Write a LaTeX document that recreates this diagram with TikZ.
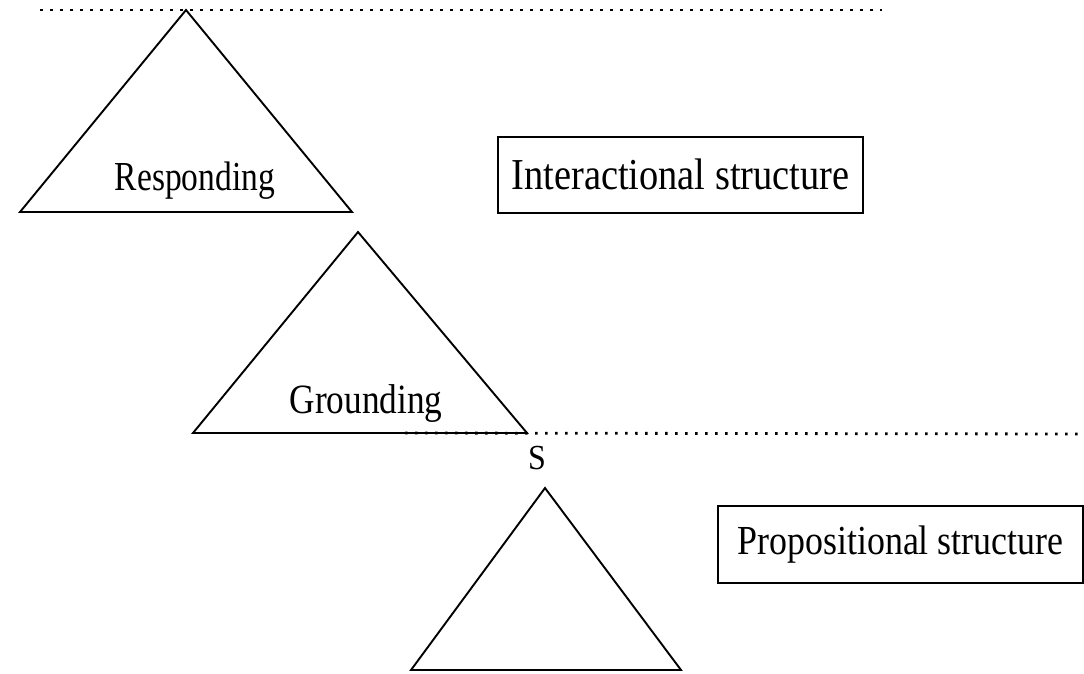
\documentclass[tikz,border=0pt]{standalone}
\usepackage{fontspec}
\setmainfont{Liberation Serif}
\begin{document}
\begin{tikzpicture}[x=1pt,y=-1pt,
  tri/.style={draw=black,line width=1.9pt,line join=miter},
  dotline/.style={draw=black,line width=2.8pt,dash pattern=on 2.6pt off 7.4pt},
  lbl/.style={inner sep=0pt,anchor=base},
  boxnode/.style={draw=black,line width=2pt,inner sep=0pt}
]
\useasboundingbox (0,0) rectangle (1084,673);
% dotted lines
\coordinate (t1) at (40,10);
\coordinate (t2) at (882,10);
\coordinate (m1) at (405,433);
\coordinate (m2) at (1084,434);
\draw[dotline] (t1) -- (t2);
\draw[dotline] (m1) -- (m2);
% triangles
\coordinate (a1) at (186,10);
\coordinate (b1l) at (20,212);
\coordinate (b1r) at (352,212);
\draw[tri] (a1) -- (b1r) -- (b1l) -- cycle;
\coordinate (a2) at (358,232);
\coordinate (b2l) at (193,433);
\coordinate (b2r) at (527,433);
\draw[tri] (a2) -- (b2r) -- (b2l) -- cycle;
\coordinate (a3) at (545,488);
\coordinate (b3l) at (411,670);
\coordinate (b3r) at (681,670);
\draw[tri] (a3) -- (b3r) -- (b3l) -- cycle;
% labels
\node[lbl,font=\fontsize{33.5}{40}\selectfont] (resp) at (195,190) {\scalebox{1}[1.23]{Responding}};
\node[lbl,font=\fontsize{35.3}{42}\selectfont] (grnd) at (366,413) {\scalebox{1}[1.18]{Grounding}};
\node[lbl,font=\fontsize{32}{38}\selectfont] (s) at (537,469) {\scalebox{1}[1.1]{S}};
% boxes
\node[boxnode,minimum width=365pt,minimum height=76pt,font=\fontsize{38.4}{46}\selectfont] (inter) at (680.5,174.5) {\scalebox{1}[1.15]{Interactional structure}};
\node[boxnode,minimum width=365pt,minimum height=77pt,font=\fontsize{35.9}{43}\selectfont] (prop) at (900.5,544.5) {\scalebox{1}[1.15]{Propositional structure}};
\end{tikzpicture}
\end{document}
